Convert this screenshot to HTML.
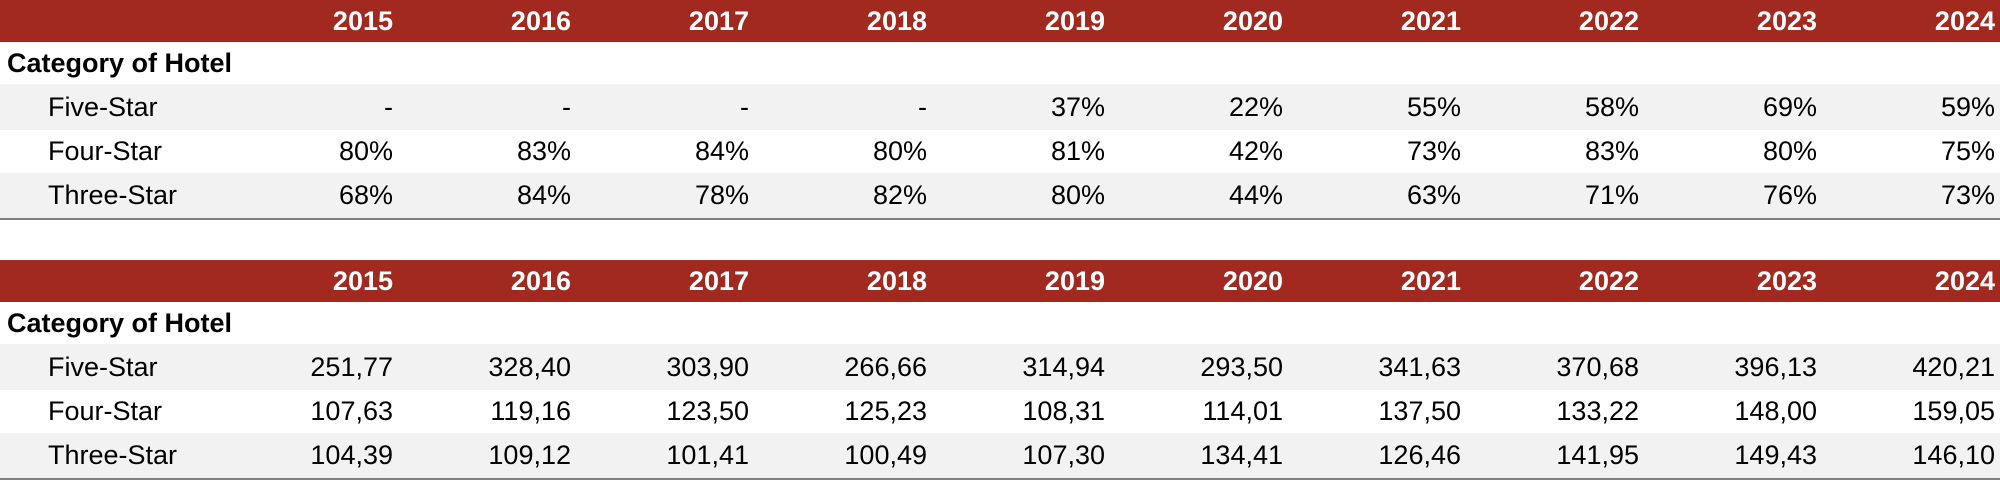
<!DOCTYPE html>
<html><head><style>
body{margin:0;width:2000px;height:481px;background:#fff;font-family:"Liberation Sans",sans-serif;position:relative;overflow:hidden}
.r{position:absolute;left:0;width:2000px}
.h{background:#A2291F;color:#fff;font-weight:bold}
.g{background:#F2F2F2}
.c{position:absolute;text-align:right;width:170px;font-size:27px}
.l{position:absolute;font-size:27px;left:48px}
.b{position:absolute;font-size:27px;left:7px;font-weight:bold}
.line{position:absolute;left:0;width:2000px;height:2px;background:#7f7f7f}
</style></head><body>
<div id="t"></div>
<script>
const yrs=[2015,2016,2017,2018,2019,2020,2021,2022,2023,2024];
const d1=[["Five-Star",["-","-","-","-","37%","22%","55%","58%","69%","59%"]],["Four-Star",["80%","83%","84%","80%","81%","42%","73%","83%","80%","75%"]],["Three-Star",["68%","84%","78%","82%","80%","44%","63%","71%","76%","73%"]]];
const d2=[["Five-Star",["251,77","328,40","303,90","266,66","314,94","293,50","341,63","370,68","396,13","420,21"]],["Four-Star",["107,63","119,16","123,50","125,23","108,31","114,01","137,50","133,22","148,00","159,05"]],["Three-Star",["104,39","109,12","101,41","100,49","107,30","134,41","126,46","141,95","149,43","146,10"]]];
let h="";
function row(top,ht,cls,label,lcls,vals){
 h+=`<div class="r ${cls}" style="top:${top}px;height:${ht}px;line-height:${ht}px">`;
 if(label)h+=`<div class="${lcls}" style="top:0">${label}</div>`;
 if(vals)vals.forEach((v,i)=>{h+=`<div class="c" style="left:${393+i*178-170}px;top:0">${v}</div>`});
 h+="</div>";
}
function table(y0,data){
 row(y0,42,"h",null,null,yrs);
 row(y0+42,42,"","Category of Hotel","b",null);
 row(y0+84,46,"g",data[0][0],"l",data[0][1]);
 row(y0+130,43,"",data[1][0],"l",data[1][1]);
 row(y0+173,45,"g",data[2][0],"l",data[2][1]);
 h+=`<div class="line" style="top:${y0+218}px"></div>`;
}
table(0,d1);
table(260,d2);
document.getElementById("t").innerHTML=h;
</script>
</body></html>
